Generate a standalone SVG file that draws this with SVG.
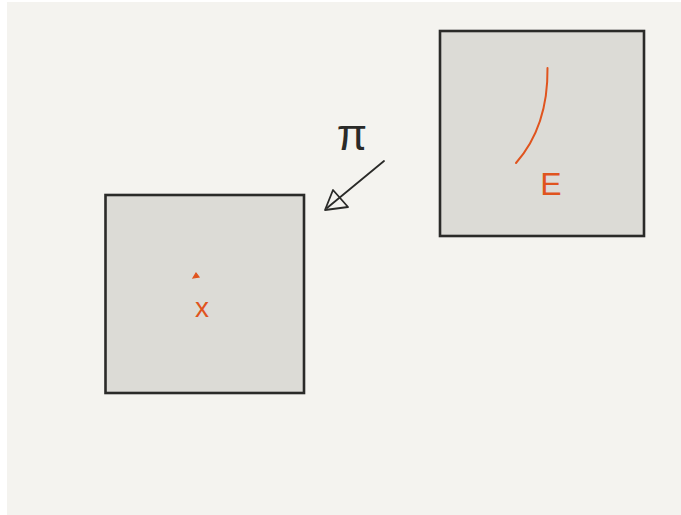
<svg xmlns="http://www.w3.org/2000/svg" width="681" height="515" viewBox="0 0 681 515">
<style>
.box{fill:#dcdbd6;stroke:#2a2a28;stroke-width:2.6}
.lbl{font-family:"Liberation Sans",Arial,sans-serif;fill:#e0541e;text-anchor:middle}
.conn{fill:none;stroke:#2a2a28;stroke-width:1.8;stroke-linecap:round;stroke-linejoin:round}
</style>
<rect x="0" y="0" width="681" height="515" fill="#ffffff"/>
<rect x="7" y="2" width="674" height="513" fill="#f4f3ef"/>
<g id="nodeX">
<rect class="box" x="105.5" y="195" width="198.5" height="198"/>
<path d="M193,278 L196,273 L199,277 Z" fill="#e0541e" stroke="#e0541e" stroke-width="1.2"/>
<text class="lbl" x="202" y="317" font-size="28">x</text>
</g>
<g id="nodeE">
<rect class="box" x="440" y="31" width="204" height="205"/>
<path d="M547.5,68 C548,108 538,138 516,163" fill="none" stroke="#e0541e" stroke-width="2" stroke-linecap="round"/>
<text class="lbl" x="551" y="195" font-size="32">E</text>
</g>
<g id="connectors">
<line class="conn" x1="384" y1="161" x2="327" y2="208"/>
<path class="conn" d="M333,190 L325,210 L348,207 Z"/>
<text x="352" y="150" font-size="44" font-family="'Liberation Sans',Arial,sans-serif" fill="#2a2a28" text-anchor="middle">π</text>
</g>
</svg>
